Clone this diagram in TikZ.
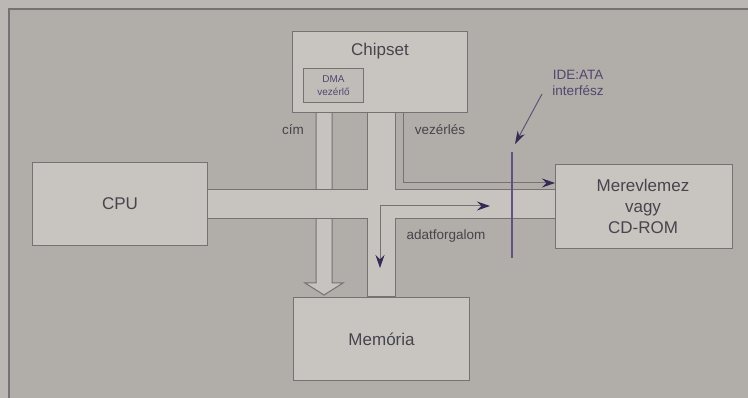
\documentclass[tikz,border=0pt]{standalone}
\usepackage{fontspec}
\setmainfont{Liberation Sans}
\usetikzlibrary{arrows.meta}
\definecolor{outbg}{RGB}{186,183,180}
\definecolor{inbg}{RGB}{177,173,169}
\definecolor{boxfill}{RGB}{200,197,193}
\definecolor{busfill}{RGB}{199,196,192}
\definecolor{edge}{RGB}{118,113,115}
\definecolor{txt}{RGB}{70,68,76}
\definecolor{navy}{RGB}{52,44,84}
\definecolor{ideline}{RGB}{100,80,134}
\definecolor{pur}{RGB}{82,70,110}
\tikzset{
  unit/.style={draw=edge, line width=1.1pt, fill=boxfill},
  blabel/.style={text=txt, font=\fontsize{17}{21}\selectfont, align=center},
  slabel/.style={text=txt, font=\fontsize{13.5}{15}\selectfont},
  sig/.style={draw=edge, line width=1pt},
  tip/.style={-{Stealth[length=13pt,width=9pt,inset=4.5pt,color=navy]}},
}
\begin{document}
\begin{tikzpicture}[x=1pt,y=-1pt]
\useasboundingbox (0,0) rectangle (748,398);
% background and frame
\fill[outbg] (0,0) rectangle (748,398);
\fill[inbg] (9,9) rectangle (748,398);
\draw[edge, line width=1.2pt] (9,398) -- (9,9) -- (748,9);
% address band with hollow arrow
\draw[sig, fill=busfill] (316,112) -- (316,283) -- (305,283) -- (324,295) -- (343,283) -- (332,283) -- (332,112);
% data bus cross
\draw[sig, fill=busfill] (206,190) -- (367,190) -- (367,112) -- (395,112) -- (395,190) -- (555,190)
  -- (555,219) -- (395,219) -- (395,297) -- (367,297) -- (367,219) -- (206,219) -- cycle;
% units
\node[unit, minimum width=175pt, minimum height=83pt, anchor=north west] (cpu) at (32,162) {};
\node[blabel] at (cpu.center) {CPU};
\node[unit, minimum width=175pt, minimum height=81pt, anchor=north west] (chip) at (292,31) {};
\node[blabel] at (380,51) {Chipset};
\node[draw=edge, line width=1pt, fill=boxfill!96!black, minimum width=60pt, minimum height=34pt, anchor=north west] (dma) at (303,68) {};
\node[text=pur, font=\fontsize{10}{12.5}\selectfont, align=center] at (dma.center) {DMA\\vezérlő};
\node[unit, minimum width=176pt, minimum height=83pt, anchor=north west] (mem) at (293,297) {};
\node[blabel] at (mem.center) {Memória};
\node[unit, minimum width=177pt, minimum height=84pt, anchor=north west] (hdd) at (555,164) {};
\node[blabel] at (643,206) {Merevlemez\\vagy\\CD-ROM};
% control and data arrows
\coordinate (c0) at (403,112);
\coordinate (c1) at (403,183);
\draw[sig, tip] (c0) -- (c1) -- (hdd.west |- c1);
\coordinate (d0) at (490,206);
\coordinate (d1) at (380,206);
\coordinate (d2) at (380,268);
\draw[sig, tip] (d1) -- (d0);
\draw[sig, tip] (d1) -- (d2);
% IDE/ATA interface
\coordinate (i0) at (512,152);
\coordinate (i1) at (512,258);
\draw[ideline, line width=2.2pt] (i0) -- (i1);
\node[text=pur, font=\fontsize{13.5}{16}\selectfont, align=center] (ide) at (578,83) {IDE:ATA\\interfész};
\draw[draw=navy!80, line width=1pt, -{Stealth[length=13pt,width=8pt,inset=4pt,color=navy]}] (542,94) -- (515,144);
% labels
\node[slabel] at (293,130) {cím};
\node[slabel] at (440,130) {vezérlés};
\node[slabel] at (446,236) {adatforgalom};
\end{tikzpicture}
\end{document}
